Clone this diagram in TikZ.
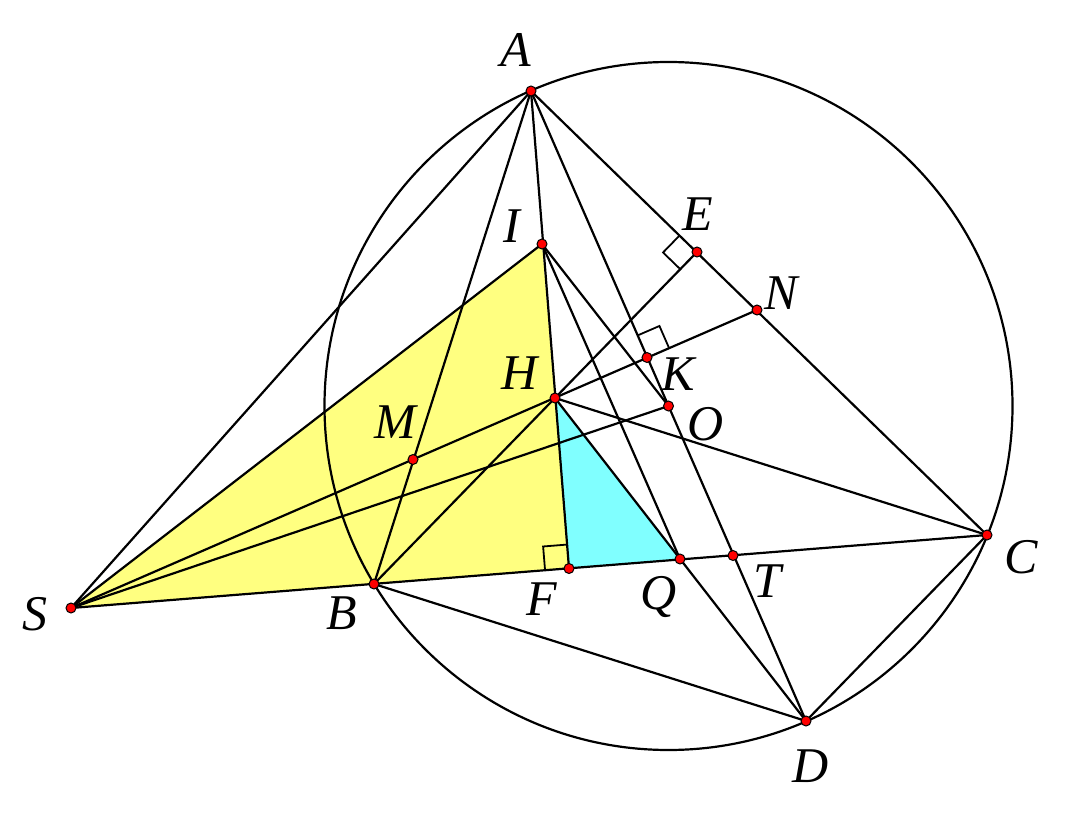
\documentclass[tikz,border=0pt]{standalone}
\usepackage{fontspec}
\setmainfont{Liberation Serif}
\usetikzlibrary{calc}
\definecolor{yel}{RGB}{255,255,128}
\definecolor{cya}{RGB}{128,255,255}
\begin{document}
\begin{tikzpicture}[x=0.5pt,y=-0.5pt,
  seg/.style={line width=1.1pt, line cap=round, line join=round},
  rmark/.style={line width=0.9pt},
  dot/.style={circle, fill=red, draw=black, line width=0.5pt, inner sep=0pt, minimum size=5pt},
  lab/.style={font=\fontsize{25}{30}\selectfont\itshape, inner sep=0pt}]
\useasboundingbox (0,0) rectangle (1067,813);
% points
\coordinate (A) at (531,91);
\coordinate (I) at (542,244);
\coordinate (E) at (697,252);
\coordinate (N) at (757,310);
\coordinate (K) at (647,357.5);
\coordinate (H) at (555,398);
\coordinate (O) at (668.5,406);
\coordinate (M) at (413,459.5);
\coordinate (C) at (987,535);
\coordinate (T) at (733,555.5);
\coordinate (Q) at (680,559);
\coordinate (F) at (569,568.5);
\coordinate (B) at (374,584);
\coordinate (S) at (71,608);
\coordinate (D) at (806,721);
% fills
\fill[yel] (S) -- (I) -- (F) -- cycle;
\fill[cya] (H) -- (F) -- (Q) -- cycle;
% circle
\draw[seg] (O) circle[radius=344];
% lines
\draw[seg] (S) -- (A);
\draw[seg] (S) -- (I);
\draw[seg] (S) -- (C);
\draw[seg] (S) -- (N);
\draw[seg] (S) -- (O);
\draw[seg] (A) -- (B);
\draw[seg] (A) -- (F);
\draw[seg] (A) -- (D);
\draw[seg] (A) -- (C);
\draw[seg] (B) -- (E);
\draw[seg] (H) -- (C);
\draw[seg] (H) -- (D);
\draw[seg] (I) -- (Q);
\draw[seg] (I) -- (O);
\draw[seg] (B) -- (D);
\draw[seg] (C) -- (D);
% right angle marks
\coordinate (ea) at ($(E)!12pt!(A)$);
\coordinate (eb) at ($(E)!12pt!(B)$);
\draw[rmark] (ea) -- ($(ea)+(eb)-(E)$) -- (eb);
\coordinate (ka) at ($(K)!12pt!(A)$);
\coordinate (kn) at ($(K)!12pt!(N)$);
\draw[rmark] (ka) -- ($(ka)+(kn)-(K)$) -- (kn);
\coordinate (fh) at ($(F)!12pt!(H)$);
\coordinate (fb) at ($(F)!12pt!(B)$);
\draw[rmark] (fh) -- ($(fh)+(fb)-(F)$) -- (fb);
% dots
\foreach \p in {A,I,E,N,K,H,O,M,C,T,Q,F,B,S,D}
  \node[dot] (d\p) at (\p) {};
% labels
\node[lab] (lA) at (516,50) {A};
\node[lab] (lI) at (512,226) {I};
\node[lab] (lE) at (698,214) {E};
\node[lab] (lN) at (781,293) {N};
\node[lab] (lK) at (678,374) {K};
\node[lab] (lH) at (520,373) {H};
\node[lab] (lO) at (706,424) {O};
\node[lab] (lM) at (395,422) {M};
\node[lab] (lC) at (1021,557) {C};
\node[lab] (lT) at (767,581) {T};
\node[lab] (lQ) at (659,597) {Q};
\node[lab] (lF) at (542,599) {F};
\node[lab] (lB) at (342,613) {B};
\node[lab] (lS) at (35,614) {S};
\node[lab] (lD) at (811,766) {D};
\end{tikzpicture}
\end{document}
